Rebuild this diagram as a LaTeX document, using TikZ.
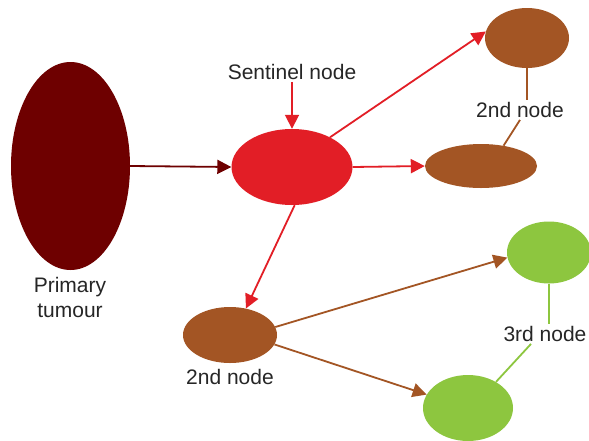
\documentclass[tikz,border=0pt]{standalone}
\usepackage{fontspec}
\setmainfont{Liberation Sans}
\usetikzlibrary{shapes.geometric,arrows.meta}
\definecolor{darkred}{RGB}{110,0,0}
\definecolor{sentred}{RGB}{226,30,38}
\definecolor{nodebrown}{RGB}{163,85,36}
\definecolor{nodegreen}{RGB}{141,198,63}
\tikzset{
  blob/.style={ellipse,draw=none,inner sep=0pt},
  lbl/.style={font=\fontsize{21}{25}\selectfont,align=center,inner sep=2pt,text=black!85},
  arr/.style={line width=1.8pt,-{Triangle[length=14pt,width=14pt]}},
  link/.style={line width=1.8pt}
}
\begin{document}
\begin{tikzpicture}[x=1pt,y=-1pt]
\useasboundingbox (0,0) rectangle (589,440);
\clip (0,0) rectangle (589,440);
\fill[white] (0,0) rectangle (589,440);
% nodes
\node[blob,fill=darkred,minimum width=119pt,minimum height=208pt] (p) at (70.5,166) {};
\node[blob,fill=sentred,minimum width=121pt,minimum height=76pt] (s) at (292,167) {};
\node[blob,fill=nodebrown,minimum width=84pt,minimum height=60pt] (b1) at (527,38) {};
\node[blob,fill=nodebrown,minimum width=112pt,minimum height=44pt] (b2) at (481,166) {};
\node[blob,fill=nodebrown,minimum width=94pt,minimum height=56pt] (b3) at (230,335) {};
\node[blob,fill=nodegreen,minimum width=84pt,minimum height=62pt] (g1) at (549,252.5) {};
\node[blob,fill=nodegreen,minimum width=90pt,minimum height=66pt] (g2) at (468,408) {};
% labels
\node[lbl] (lsent) at (292,72) {Sentinel node};
\node[lbl] (lprim) at (70,297) {Primary\\tumour};
\node[lbl] (l2a) at (520,110) {2nd node};
\node[lbl] (l2b) at (230,377) {2nd node};
\node[lbl] (l3) at (545,334) {3rd node};
% arrows
\draw[arr,darkred] (p.east) -- (s.west);
\draw[arr,sentred] (lsent.south -| s.north) -- (s.north);
\draw[arr,sentred] (s.38) -- (b1.171);
\draw[arr,sentred] (s.east) -- (b2.west);
\draw[arr,sentred] (s.-86) -- (b3.59);
\draw[arr,nodebrown] (b3.10) -- (g1.187);
\draw[arr,nodebrown] (b3.-12) -- (g2.162);
% label connectors
\draw[link,nodebrown] (b1.south) -- (b1.south |- l2a.north);
\draw[link,nodebrown] (l2a.south) -- (b2.42);
\draw[link,nodegreen] (g1.south) -- (g1.south |- l3.north);
\draw[link,nodegreen] (l3.south -| 531,0) -- (g2.43);
\end{tikzpicture}
\end{document}
